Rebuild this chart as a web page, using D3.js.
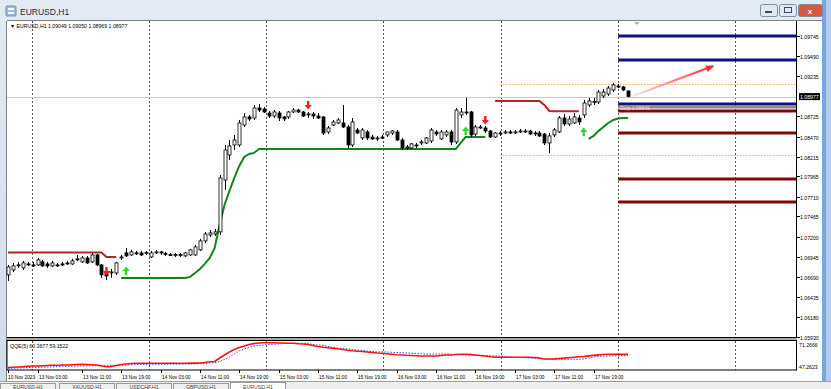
<!DOCTYPE html>
<html>
<head>
<meta charset="utf-8">
<script src="https://cdn.jsdelivr.net/npm/d3@7"></script>
<style>
  body { margin: 0; background: #fff; overflow: hidden; }
  text { font-family: "Liberation Sans", "DejaVu Sans", sans-serif; }
</style>
</head>
<body>
<script>
// EURUSD H1 bars, 10 Nov 2023 21:00 .. 17 Nov 2023
var opens = [1.06717,1.06780,1.06844,1.06806,1.06856,1.06844,1.06844,1.06882,1.06856,1.06831,
  1.06844,1.06856,1.06869,1.06856,1.06920,1.06882,1.06932,1.06882,1.06970,1.06844,
  1.06755,1.06742,1.06742,1.06932,1.06996,1.06970,1.06996,1.06996,1.06996,1.06945,
  1.06996,1.07008,1.06990,1.06975,1.06970,1.06975,1.06958,1.06970,1.06970,1.07034,
  1.07148,1.07224,1.07236,1.07262,1.07920,1.08237,1.08364,1.08364,1.08617,1.08719,
  1.08706,1.08833,1.08820,1.08769,1.08731,1.08769,1.08719,1.08719,1.08782,1.08807,
  1.08782,1.08744,1.08757,1.08731,1.08719,1.08529,1.08617,1.08643,1.08643,1.08592,
  1.08364,1.08554,1.08453,1.08529,1.08465,1.08440,1.08465,1.08491,1.08516,1.08529,
  1.08427,1.08338,1.08326,1.08364,1.08389,1.08389,1.08415,1.08529,1.08440,1.08491,
  1.08529,1.08402,1.08744,1.08782,1.08782,1.08503,1.08592,1.08579,1.08541,1.08465,
  1.08516,1.08516,1.08529,1.08522,1.08529,1.08541,1.08541,1.08516,1.08516,1.08503,
  1.08389,1.08491,1.08529,1.08706,1.08630,1.08643,1.08706,1.08744,1.08871,1.08908,
  1.08908,1.08985,1.09010,1.09061,1.09111,1.09099,1.09049];
var highs = [1.06844,1.06869,1.06882,1.06894,1.06882,1.06882,1.06932,1.06907,1.06882,1.06894,
  1.06869,1.06882,1.06894,1.06920,1.06970,1.06958,1.06958,1.06996,1.06983,1.06856,
  1.06780,1.06793,1.06882,1.06970,1.07059,1.07034,1.07021,1.07021,1.07021,1.07021,
  1.07034,1.07021,1.07008,1.06996,1.06996,1.06996,1.07008,1.07046,1.07097,1.07173,
  1.07262,1.07287,1.07300,1.07984,1.08364,1.08427,1.08491,1.08681,1.08769,1.08744,
  1.08871,1.08883,1.08845,1.08795,1.08807,1.08795,1.08731,1.08795,1.08833,1.08820,
  1.08795,1.08782,1.08782,1.08769,1.08731,1.08605,1.08681,1.08706,1.08871,1.08617,
  1.08706,1.08579,1.08579,1.08554,1.08491,1.08478,1.08491,1.08529,1.08554,1.08554,
  1.08453,1.08364,1.08389,1.08389,1.08427,1.08465,1.08579,1.08554,1.08554,1.08554,
  1.08554,1.08833,1.08833,1.08959,1.08795,1.08617,1.08617,1.08605,1.08554,1.08529,
  1.08541,1.08554,1.08554,1.08554,1.08567,1.08567,1.08554,1.08541,1.08541,1.08516,
  1.08516,1.08579,1.08731,1.08757,1.08731,1.08769,1.08744,1.08934,1.08959,1.08959,
  1.09061,1.09073,1.09111,1.09149,1.09137,1.09111,1.09050];
var lows = [1.06641,1.06755,1.06806,1.06780,1.06831,1.06818,1.06831,1.06818,1.06806,1.06818,
  1.06818,1.06831,1.06844,1.06844,1.06894,1.06869,1.06856,1.06869,1.06831,1.06679,
  1.06654,1.06679,1.06717,1.06907,1.06945,1.06958,1.06970,1.06958,1.06970,1.06932,
  1.06983,1.06970,1.06958,1.06958,1.06945,1.06945,1.06945,1.06958,1.06958,1.07021,
  1.07122,1.07198,1.07211,1.07224,1.07794,1.08174,1.08300,1.08338,1.08592,1.08668,
  1.08681,1.08782,1.08769,1.08706,1.08706,1.08668,1.08668,1.08693,1.08769,1.08769,
  1.08719,1.08706,1.08693,1.08693,1.08491,1.08503,1.08605,1.08630,1.08579,1.08326,
  1.08338,1.08503,1.08427,1.08427,1.08427,1.08415,1.08440,1.08465,1.08491,1.08415,
  1.08300,1.08300,1.08313,1.08326,1.08364,1.08377,1.08389,1.08478,1.08427,1.08465,
  1.08364,1.08377,1.08706,1.08744,1.08465,1.08478,1.08567,1.08516,1.08453,1.08453,
  1.08478,1.08503,1.08503,1.08503,1.08516,1.08516,1.08491,1.08478,1.08465,1.08364,
  1.08263,1.08465,1.08516,1.08605,1.08605,1.08630,1.08617,1.08706,1.08845,1.08871,
  1.08883,1.08959,1.08985,1.09035,1.09086,1.09048,1.08969];
var closes = [1.06818,1.06831,1.06837,1.06869,1.06850,1.06840,1.06907,1.06831,1.06831,1.06869,
  1.06840,1.06844,1.06865,1.06894,1.06915,1.06932,1.06869,1.06970,1.06844,1.06717,
  1.06704,1.06755,1.06869,1.06945,1.06958,1.07008,1.06990,1.06970,1.07000,1.06996,
  1.07008,1.06996,1.06983,1.06970,1.06975,1.06970,1.06996,1.07034,1.07072,1.07148,
  1.07236,1.07249,1.07262,1.07946,1.08300,1.08351,1.08427,1.08643,1.08719,1.08693,
  1.08833,1.08807,1.08782,1.08731,1.08782,1.08706,1.08693,1.08782,1.08807,1.08782,
  1.08731,1.08757,1.08731,1.08706,1.08516,1.08579,1.08655,1.08681,1.08592,1.08364,
  1.08655,1.08516,1.08554,1.08453,1.08440,1.08453,1.08450,1.08529,1.08541,1.08427,
  1.08326,1.08330,1.08377,1.08351,1.08402,1.08453,1.08554,1.08503,1.08529,1.08529,
  1.08402,1.08807,1.08782,1.08769,1.08491,1.08592,1.08585,1.08541,1.08465,1.08516,
  1.08503,1.08529,1.08522,1.08529,1.08541,1.08535,1.08503,1.08503,1.08478,1.08389,
  1.08478,1.08554,1.08706,1.08630,1.08693,1.08719,1.08655,1.08896,1.08921,1.08915,
  1.09035,1.09035,1.09086,1.09124,1.09099,1.09061,1.08977];

// trailing stop lines (null = not drawn)
var resistLine = [];
var supportLine = [];
(function () {
  var r = {}, s = {};
  [0,1,2,3,4,5,6,7,8,9,10,11,12,13,14,15,16,17,18,19].forEach(function (i) { r[i] = 1.07002; });
  r[20] = 1.06945; r[21] = 1.06945; r[22] = 1.06945;
  [99,100,101,102,103,104,105,106,107,108].forEach(function (i) { r[i] = 1.08921; });
  r[109] = 1.08871; r[110] = 1.08795; r[111] = 1.08790; r[112] = 1.08790; r[113] = 1.08790;
  r[114] = 1.08790; r[115] = 1.08790; r[116] = 1.08790;
  [23,24,25,26,27,28,29,30,31,32,33,34,35,36].forEach(function (i) { s[i] = 1.06679; });
  s[37] = 1.06692; s[38] = 1.06742; s[39] = 1.06793; s[40] = 1.06856; s[41] = 1.06932;
  s[42] = 1.07059; s[43] = 1.07350; s[44] = 1.07604; s[45] = 1.07781; s[46] = 1.07946;
  s[47] = 1.08098; s[48] = 1.08212; s[49] = 1.08250; s[50] = 1.08263;
  for (var k = 51; k <= 91; k++) s[k] = 1.08313;
  s[92] = 1.08389; s[93] = 1.08465; s[94] = 1.08465; s[95] = 1.08465; s[96] = 1.08465; s[97] = 1.08465;
  s[118] = 1.08440; s[119] = 1.08478; s[120] = 1.08541; s[121] = 1.08592; s[122] = 1.08643;
  s[123] = 1.08681; s[124] = 1.08700; s[125] = 1.08706; s[126] = 1.08706;
  for (var j = 0; j < 127; j++) {
    resistLine.push(r[j] === undefined ? null : r[j]);
    supportLine.push(s[j] === undefined ? null : s[j]);
  }
})();

var sellSignals = [[20, 1.06755], [61, 1.08858], [97, 1.08668]];
var buySignals = [[24, 1.06780], [93, 1.08554], [117, 1.08541]];

var navyLevels = [1.09745, 1.09440, 1.08883];
var stopLevel = 1.08845;
var redLevels = [1.08795, 1.08516, 1.07933, 1.07641];
var rangeLevels = [1.09137, 1.08237];
var levelStart = 124, rangeStart = 100;
var trendArrow = [[127.0, 1.08985], [143.3, 1.09365]];

var qqeMain = [48.60,48.78,49.04,49.31,49.66,49.93,49.93,50.11,50.37,50.55,
  50.64,50.82,50.82,51.00,51.26,51.44,51.26,51.00,50.82,49.93,
  49.31,49.48,50.37,51.26,51.71,52.15,52.33,52.33,52.40,52.33,
  52.33,52.40,52.33,52.33,52.33,52.33,52.40,52.45,52.50,52.60,
  53.04,53.66,53.93,57.04,59.71,62.38,64.60,66.38,67.71,69.04,
  69.93,70.38,70.55,70.64,70.64,70.38,70.38,70.20,70.11,69.67,
  69.49,69.04,68.15,67.26,66.55,66.11,65.67,65.22,64.60,63.89,
  63.44,63.09,62.82,62.38,61.93,61.49,61.22,60.78,60.33,59.89,
  59.71,59.44,59.27,59.00,58.82,58.82,58.82,58.82,59.27,59.71,
  59.71,60.15,60.33,60.33,60.15,59.71,59.27,58.82,58.11,57.66,
  57.66,57.66,57.66,57.66,57.66,57.66,57.66,57.49,57.04,56.15,
  56.15,56.30,56.60,56.90,57.30,57.70,58.10,58.30,58.90,59.40,
  59.80,60.10,60.40,60.37,60.37,60.37,60.3677];
var qqeSignal = [47.89,47.98,48.16,48.33,48.51,48.69,48.78,48.86,49.04,49.22,
  49.40,49.48,49.66,49.75,49.93,50.02,50.11,50.19,50.19,50.19,
  50.11,50.28,50.46,50.64,50.82,51.00,51.17,51.26,51.35,51.44,
  51.44,51.44,51.44,51.50,51.55,51.60,51.65,51.71,51.80,51.90,
  52.15,52.60,52.86,53.93,55.71,57.93,60.60,63.26,65.04,66.38,
  67.71,68.15,68.60,69.04,69.31,69.49,69.93,70.11,70.11,70.11,
  70.11,69.93,69.04,68.60,68.15,67.26,66.55,65.93,65.49,65.04,
  64.60,64.15,63.71,63.26,62.82,62.38,62.64,62.38,62.11,61.93,
  61.75,61.49,61.22,61.04,60.87,60.60,60.60,60.60,60.60,60.60,
  60.42,60.15,59.89,59.71,59.53,59.44,59.27,59.09,59.09,58.82,
  58.55,58.29,57.93,57.66,57.49,57.22,57.04,56.77,56.51,56.15,
  55.88,55.88,55.88,55.88,55.88,55.88,55.88,56.15,57.00,57.90,
  58.40,58.60,58.80,59.00,59.10,59.15,59.1522];

var priceTicks = [1.09745, 1.09490, 1.09235, 1.08725, 1.08470, 1.08215, 1.07965, 1.07710,
  1.07465, 1.07200, 1.06945, 1.06690, 1.06435, 1.06180, 1.05930];
var timeIdx = [0, 6, 15, 23, 31, 39, 47, 55, 63, 71, 79, 87, 95, 103, 111, 119];
var timeLabels = ["10 Nov 2023", "13 Nov 03:00", "13 Nov 11:00", "13 Nov 19:00", "14 Nov 03:00",
  "14 Nov 11:00", "14 Nov 19:00", "15 Nov 03:00", "15 Nov 11:00", "15 Nov 19:00", "16 Nov 03:00",
  "16 Nov 11:00", "16 Nov 19:00", "17 Nov 03:00", "17 Nov 11:00", "17 Nov 19:00"];
var gridIdx = [4.9, 28.7, 52.5, 76.3, 100.1, 123.9, 147.7];
var tabs = ["EURUSD,H1", "XAUUSD,H1", "USDCHF,H1", "GBPUSD,H1", "EURUSD,H1"];
var lastPrice = 1.08977;
var qqeMax = 71.2666, qqeMin = 47.2623;

var W = 831, H = 389;
var left = 7, right = 796, plotTop = 21, bottom = 337, iTop = 341, iBottom = 370;

var svg = d3.select('body').append('svg').attr('width', W).attr('height', H);
var defs = svg.append('defs');

var frameGrad = defs.append('linearGradient').attr('id', 'frame').attr('x1', 0).attr('y1', 0).attr('x2', 0).attr('y2', 1);
frameGrad.append('stop').attr('offset', 0).attr('stop-color', '#e2eaf4');
frameGrad.append('stop').attr('offset', 1).attr('stop-color', '#d0dcea');

var arrowGrad = defs.append('linearGradient').attr('id', 'arrowGrad')
  .attr('gradientUnits', 'userSpaceOnUse');

var x = d3.scaleLinear().domain([0, 126]).range([8, 628]);
var y = d3.scaleLinear().domain([1.05930, 1.09745]).range([337, 36]);
var yq = d3.scaleLinear().domain([qqeMin, qqeMax]).range([369, 342]);

// window chrome
svg.append('rect').attr('width', W).attr('height', H).attr('fill', 'url(#frame)');
svg.append('rect').attr('x', 822).attr('y', 0).attr('width', 9).attr('height', 383).attr('fill', '#7aa6dc');
svg.append('rect').attr('x', 826).attr('y', 0).attr('width', 5).attr('height', 383).attr('fill', '#b5cdec');
svg.append('rect').attr('x', 0).attr('y', 381).attr('width', W).attr('height', 8).attr('fill', '#eeeeee');
svg.append('line').attr('x1', 0).attr('x2', W).attr('y1', 381.5).attr('y2', 381.5).attr('stroke', '#a0a0a0');

// title bar
var icon = svg.append('g').attr('transform', 'translate(6,6)');
icon.append('rect').attr('width', 10).attr('height', 10).attr('rx', 1).attr('fill', '#9fbbe0').attr('stroke', '#6d8fc0');
icon.append('rect').attr('x', 2).attr('y', 2).attr('width', 6).attr('height', 2).attr('fill', '#fff');
icon.append('rect').attr('x', 2).attr('y', 6).attr('width', 6).attr('height', 2).attr('fill', '#fff');
svg.append('text').attr('x', 20).attr('y', 15).attr('font-size', 8.5).attr('fill', '#1b2b44').text('EURUSD,H1');

var btn = [[760, 17, '#dfe8f3'], [779, 17, '#dfe8f3'], [798, 24, '#d9583e']];
btn.forEach(function (b) {
  svg.append('rect').attr('x', b[0] + 0.5).attr('y', 4.5).attr('width', b[1]).attr('height', 12)
    .attr('rx', 2).attr('fill', b[2]).attr('stroke', '#7d8ea4');
});
svg.append('rect').attr('x', 765).attr('y', 11).attr('width', 7).attr('height', 2).attr('fill', '#3a4a60');
svg.append('rect').attr('x', 784.5).attr('y', 7.5).attr('width', 7).attr('height', 5).attr('fill', 'none').attr('stroke', '#3a4a60');
svg.append('text').attr('x', 810).attr('y', 13.5).attr('text-anchor', 'middle').attr('font-size', 8)
  .attr('font-weight', 'bold').attr('fill', '#fff').text('x');

// chart client area
svg.append('rect').attr('x', left).attr('y', plotTop).attr('width', 815).attr('height', 360).attr('fill', '#fff');
svg.append('line').attr('x1', left - 0.5).attr('x2', left - 0.5).attr('y1', plotTop).attr('y2', 381).attr('stroke', '#808080');
svg.append('line').attr('x1', left).attr('x2', 822).attr('y1', plotTop - 0.5).attr('y2', plotTop - 0.5).attr('stroke', '#808080');

var plot = svg.append('g');
// vertical grid
gridIdx.forEach(function (g) {
  var gx = Math.round(x(g)) + 0.5;
  [[plotTop, bottom], [iTop, iBottom]].forEach(function (r) {
    plot.append('line').attr('x1', gx).attr('x2', gx).attr('y1', r[0]).attr('y2', r[1])
      .attr('stroke', '#555').attr('stroke-dasharray', '2,2');
  });
});

// bid line
plot.append('line').attr('x1', left).attr('x2', right).attr('y1', Math.round(y(lastPrice)) + 0.5)
  .attr('y2', Math.round(y(lastPrice)) + 0.5).attr('stroke', '#c8c8c8');

// range (orange dotted)
rangeLevels.forEach(function (p) {
  plot.append('line').attr('x1', x(rangeStart)).attr('x2', right).attr('y1', Math.round(y(p)) + 0.5)
    .attr('y2', Math.round(y(p)) + 0.5).attr('stroke', '#f7b35a').attr('stroke-dasharray', '1.5,1.5');
});

// trade levels
navyLevels.forEach(function (p) {
  plot.append('line').attr('x1', x(levelStart)).attr('x2', right).attr('y1', y(p)).attr('y2', y(p))
    .attr('stroke', '#101080').attr('stroke-width', 3);
});
plot.append('line').attr('x1', x(levelStart)).attr('x2', right).attr('y1', y(stopLevel)).attr('y2', y(stopLevel))
  .attr('stroke', '#8c8c8c').attr('stroke-width', 3);
redLevels.forEach(function (p) {
  plot.append('line').attr('x1', x(levelStart)).attr('x2', right).attr('y1', y(p)).attr('y2', y(p))
    .attr('stroke', '#7c0a0a').attr('stroke-width', 3);
});
plot.append('text').attr('x', x(levelStart) + 2).attr('y', y(stopLevel) + 3).attr('font-size', 5)
  .attr('fill', '#f2d8d8').text('Stop 1.08845');

// trailing lines
var lineGen = d3.line().defined(function (d) { return d !== null; })
  .x(function (d, i) { return x(i); }).y(function (d) { return y(d); });
plot.append('path').datum(resistLine).attr('d', lineGen).attr('fill', 'none')
  .attr('stroke', '#b32424').attr('stroke-width', 2);
plot.append('path').datum(supportLine).attr('d', lineGen).attr('fill', 'none')
  .attr('stroke', '#13861b').attr('stroke-width', 2);

// candles
var bars = d3.range(opens.length);
plot.selectAll('line.wick').data(bars).enter().append('line')
  .attr('x1', function (i) { return Math.round(x(i)) + 0.5; })
  .attr('x2', function (i) { return Math.round(x(i)) + 0.5; })
  .attr('y1', function (i) { return y(highs[i]); })
  .attr('y2', function (i) { return y(lows[i]); })
  .attr('stroke', '#000');
plot.selectAll('rect.body').data(bars).enter().append('rect')
  .attr('x', function (i) { return Math.round(x(i)) - 1; })
  .attr('y', function (i) { return y(Math.max(opens[i], closes[i])); })
  .attr('width', 3)
  .attr('height', function (i) { return Math.max(1, Math.abs(y(opens[i]) - y(closes[i]))); })
  .attr('fill', function (i) { return closes[i] >= opens[i] ? '#fff' : '#000'; })
  .attr('stroke', '#000').attr('stroke-width', 0.8);

// signal arrows
sellSignals.forEach(function (s) {
  var cx = x(s[0]), cy = y(s[1]);
  plot.append('path').attr('d', 'M' + (cx - 1.2) + ',' + (cy - 5) + 'h2.4v4h2.4l-3.6,4.5l-3.6,-4.5h2.4z')
    .attr('fill', '#ff1a1a');
});
buySignals.forEach(function (s) {
  var cx = x(s[0]), cy = y(s[1]);
  plot.append('path').attr('d', 'M' + (cx - 1.2) + ',' + (cy + 5) + 'h2.4v-4h2.4l-3.6,-4.5l-3.6,4.5h2.4z')
    .attr('fill', '#22e022');
});

// drawn trend arrow
var ax1 = x(trendArrow[0][0]), ay1 = y(trendArrow[0][1]);
var ax2 = x(trendArrow[1][0]), ay2 = y(trendArrow[1][1]);
arrowGrad.attr('x1', ax1).attr('y1', ay1).attr('x2', ax2).attr('y2', ay2);
arrowGrad.append('stop').attr('offset', 0).attr('stop-color', '#ffe4e4');
arrowGrad.append('stop').attr('offset', 1).attr('stop-color', '#ff2a2a');
plot.append('line').attr('x1', ax1).attr('y1', ay1).attr('x2', ax2).attr('y2', ay2)
  .attr('stroke', 'url(#arrowGrad)').attr('stroke-width', 2);
var ang = Math.atan2(ay2 - ay1, ax2 - ax1) * 180 / Math.PI;
plot.append('path').attr('d', 'M0,0L-8,-3.5L-8,3.5Z').attr('fill', '#ff2a2a')
  .attr('transform', 'translate(' + (ax2 + 1) + ',' + ay2 + ') rotate(' + ang + ')');

// chart shift marker
plot.append('path').attr('d', 'M' + (x(127.8) - 3) + ',' + (plotTop + 1) + 'h6l-3,3z').attr('fill', '#b0b0b0');

// frames
svg.append('line').attr('x1', right + 0.5).attr('x2', right + 0.5).attr('y1', plotTop).attr('y2', bottom + 1).attr('stroke', '#000');
svg.append('line').attr('x1', left).attr('x2', right + 1).attr('y1', bottom + 0.5).attr('y2', bottom + 0.5).attr('stroke', '#000');
svg.append('rect').attr('x', left).attr('y', bottom + 1).attr('width', right - left + 1).attr('height', 3).attr('fill', '#a9a9a9');
svg.append('rect').attr('x', left).attr('y', iTop - 0.5).attr('width', right - left + 0.5).attr('height', iBottom - iTop + 0.5)
  .attr('fill', 'none').attr('stroke', '#000');

// price axis
priceTicks.forEach(function (p) {
  var py = Math.round(y(p)) + 0.5;
  svg.append('line').attr('x1', right + 1).attr('x2', right + 4).attr('y1', py).attr('y2', py).attr('stroke', '#000');
  svg.append('text').attr('x', right + 4).attr('y', py + 2).attr('font-size', 5.2).attr('fill', '#000').text(p.toFixed(5));
});
var ly = y(lastPrice);
svg.append('rect').attr('x', right + 3).attr('y', ly - 3.5).attr('width', 21).attr('height', 7).attr('fill', '#000');
svg.append('text').attr('x', right + 4).attr('y', ly + 2).attr('font-size', 5.2).attr('fill', '#fff').text(lastPrice.toFixed(5));

// header
svg.append('text').attr('x', 10).attr('y', 27.5).attr('font-size', 5.2).attr('fill', '#000')
  .text('\u25BC EURUSD,H1  1.09049 1.09050 1.08969 1.08977');

// QQE subwindow
var qLine = function (arr) {
  return d3.line().x(function (d, i) { return x(i); }).y(function (d) { return yq(d); })(arr);
};
plot.append('path').attr('d', qLine(qqeSignal)).attr('fill', 'none').attr('stroke', '#3344ff')
  .attr('stroke-width', 1).attr('stroke-dasharray', '1.5,1.5');
plot.append('path').attr('d', qLine(qqeMain)).attr('fill', 'none').attr('stroke', '#ff1010')
  .attr('stroke-width', 1.6).attr('stroke-linejoin', 'round');
svg.append('text').attr('x', 10).attr('y', 348).attr('font-size', 5.2).attr('fill', '#000')
  .text('QQE(5) 60.3677 59.1522');
svg.append('text').attr('x', right + 3).attr('y', 346.5).attr('font-size', 5.2).attr('fill', '#000').text(qqeMax.toFixed(4));
svg.append('text').attr('x', right + 3).attr('y', 369).attr('font-size', 5.2).attr('fill', '#000').text(qqeMin.toFixed(4));

// time axis
timeIdx.forEach(function (ti, k) {
  var tx = Math.round(x(ti)) + 0.5;
  svg.append('line').attr('x1', tx).attr('x2', tx).attr('y1', iBottom).attr('y2', iBottom + 3).attr('stroke', '#000');
  svg.append('text').attr('x', k === 0 ? tx - 0.5 : tx + 0.5).attr('y', 378.5).attr('font-size', 4.8)
    .attr('fill', '#000').text(timeLabels[k]);
});

// bottom tabs
var tabX = [0, 59, 116, 173, 230];
tabs.forEach(function (t, k) {
  var active = k === tabs.length - 1;
  svg.append('rect').attr('x', tabX[k] + 0.5).attr('y', active ? 382.5 : 383.5).attr('width', 55).attr('height', 10)
    .attr('fill', active ? '#fff' : '#f0f0f0').attr('stroke', '#9a9a9a');
  svg.append('text').attr('x', tabX[k] + 28).attr('y', 388.5).attr('text-anchor', 'middle')
    .attr('font-size', 5.2).attr('fill', '#444').text(t);
});
</script>
</body>
</html>
